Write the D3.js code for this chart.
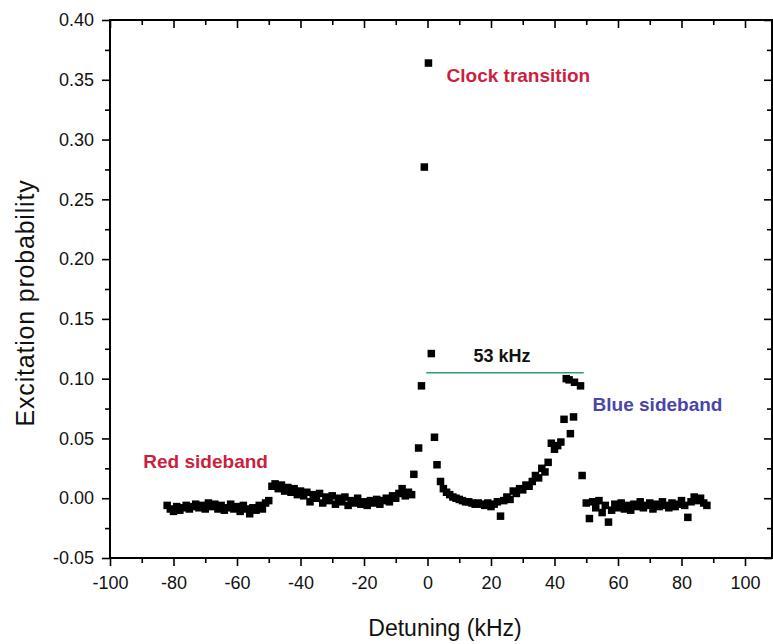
<!DOCTYPE html>
<html>
<head>
<meta charset="utf-8">
<script src="https://cdn.jsdelivr.net/npm/d3@7"></script>
<style>
  html, body { margin: 0; padding: 0; background: #fff; }
  svg { display: block; }
  text { font-family: Arial, "Liberation Sans", Helvetica, sans-serif; }
</style>
</head>
<body>
<svg id="chart" width="773" height="644"></svg>
<script>
// Sideband spectrum: detuning (kHz) vs excitation probability
const detuning = [
  -82,-81,-80,-79,-78,-77,-76,-75,-74,-73,-72,-71,-70,-69,-68,-67,-66,-65,-64,-63,
  -62,-61,-60,-59,-58,-57,-56,-55,-54,-53,-52,-51,
  -50,-49,-48,-47,-46,-45,-44,-43,-42,-41,-40,-39,-38,-37,-36,-35,-34,-33,-32,-31,
  -30,-29,-28,-27,-26,-25,-24,-23,-22,-21,-20,-19,-18,-17,-16,-15,-14,-13,-12,-11,
  -10,-9,-8,-7,-6,-5,
  -4.3,-2.8,-1.9,-1.0,0.3,1.2,2.2,3.0,4.1,
  5,6,7,8,9,10,11,12,13,14,15,16,17,18,19,20,21,22,23,24,25,26,27,28,29,30,31,32,
  33,34,35,36,37,38,39,40,41,42,
  43.0,43.7,44.6,45.0,46.0,46.3,48.2,48.7,
  50,51,52,53,54,55,56,57,58,59,60,61,62,63,64,65,66,67,68,69,70,71,72,73,74,75,
  76,77,78,79,80,81,82,83,84,85,86,87,88
];
const excitation = [
  -0.006,-0.009,-0.011,-0.007,-0.010,-0.008,-0.006,-0.009,-0.007,-0.005,-0.008,-0.006,-0.009,-0.004,-0.007,-0.005,-0.009,-0.006,-0.010,-0.008,
  -0.005,-0.009,-0.007,-0.011,-0.006,-0.009,-0.013,-0.008,-0.010,-0.006,-0.009,-0.004,
  -0.002,0.010,0.012,0.008,0.011,0.006,0.009,0.005,0.008,0.003,0.006,0.002,0.005,-0.003,0.003,0.000,0.004,-0.004,0.001,-0.002,
  0.002,-0.005,0.000,-0.003,0.001,-0.006,-0.002,-0.004,0.000,-0.005,-0.003,-0.006,-0.002,-0.004,-0.001,-0.005,-0.002,0.000,-0.003,0.002,
  0.000,0.004,0.008,0.002,0.005,0.003,
  0.020,0.042,0.094,0.277,0.364,0.121,0.051,0.028,0.014,
  0.008,0.005,0.003,0.001,0.000,-0.001,-0.002,-0.003,-0.003,-0.004,-0.005,-0.004,-0.005,-0.006,-0.004,-0.007,-0.005,-0.003,-0.015,-0.002,0.001,-0.001,0.006,0.004,0.008,0.007,0.011,0.010,
  0.014,0.019,0.017,0.025,0.022,0.030,0.046,0.041,0.044,0.047,
  0.066,0.100,0.099,0.054,0.068,0.097,0.094,0.019,
  -0.004,-0.017,-0.003,-0.008,-0.002,-0.012,-0.006,-0.020,-0.010,-0.005,-0.008,-0.004,-0.009,-0.006,-0.010,-0.005,-0.007,-0.003,-0.008,-0.006,-0.004,-0.009,-0.005,-0.007,-0.003,-0.006,
  -0.008,-0.004,-0.007,-0.005,-0.002,-0.006,-0.016,-0.003,0.001,-0.002,0.000,-0.004,-0.006
];

const xTicks = [-100,-80,-60,-40,-20,0,20,40,60,80,100];
const xMinorTicks = [-90,-70,-50,-30,-10,10,30,50,70,90];
const yTicks = [-0.05,0.00,0.05,0.10,0.15,0.20,0.25,0.30,0.35,0.40];
const yMinorTicks = [-0.025,0.025,0.075,0.125,0.175,0.225,0.275,0.325,0.375];

// Annotations
const spanStart = -0.4, spanEnd = 49.2, spanLevel = 0.105, spanLabel = "53 kHz";
const notes = [
  { text: "Clock transition", x: 6, y: 0.348, color: "#cc1f3f" },
  { text: "Red sideband",     x: -89.5, y: 0.025, color: "#cc1f3f" },
  { text: "Blue sideband",    x: 52, y: 0.073, color: "#4b45a8" }
];

const svg = d3.select("#chart");
const plotLeft = 110, plotRight = 772, plotTop = 20, plotBottom = 558;

const x = d3.scaleLinear().domain([-100, 100]).range([110, 745]);
const y = d3.scaleLinear().domain([-0.05, 0.40]).range([plotBottom, plotTop]);

// Plain hyphen for negative tick labels
const hyphen = f => v => f(v).replace("\u2212", "-");
const fmtY = hyphen(d3.format(".2f"));
const fmtX = hyphen(d3.format("d"));

function styleAxis(g) {
  g.select(".domain").remove();
  g.selectAll(".tick line").attr("stroke", "#000").attr("stroke-width", 1.6);
  g.selectAll(".tick text").attr("fill", "#111").attr("font-size", 18)
    .attr("font-family", "Arial, 'Liberation Sans', sans-serif");
}

// Bottom axis (outward ticks, labelled)
svg.append("g").attr("transform", `translate(0,${plotBottom})`)
  .call(d3.axisBottom(x).tickValues(xTicks).tickSize(8).tickPadding(10).tickFormat(fmtX))
  .call(styleAxis);
svg.append("g").attr("transform", `translate(0,${plotBottom})`)
  .call(d3.axisBottom(x).tickValues(xMinorTicks).tickSize(5).tickFormat(""))
  .call(styleAxis);

// Top axis (inward ticks)
svg.append("g").attr("transform", `translate(0,${plotTop})`)
  .call(d3.axisBottom(x).tickValues(xTicks).tickSize(8).tickFormat(""))
  .call(styleAxis);
svg.append("g").attr("transform", `translate(0,${plotTop})`)
  .call(d3.axisBottom(x).tickValues(xMinorTicks).tickSize(5).tickFormat(""))
  .call(styleAxis);

// Left axis (outward ticks, labelled)
svg.append("g").attr("transform", `translate(${plotLeft},0)`)
  .call(d3.axisLeft(y).tickValues(yTicks).tickSize(8).tickPadding(8).tickFormat(fmtY))
  .call(styleAxis);
svg.append("g").attr("transform", `translate(${plotLeft},0)`)
  .call(d3.axisLeft(y).tickValues(yMinorTicks).tickSize(5).tickFormat(""))
  .call(styleAxis);

// Right axis (inward ticks)
svg.append("g").attr("transform", `translate(${plotRight},0)`)
  .call(d3.axisLeft(y).tickValues(yTicks).tickSize(8).tickFormat(""))
  .call(styleAxis);
svg.append("g").attr("transform", `translate(${plotRight},0)`)
  .call(d3.axisLeft(y).tickValues(yMinorTicks).tickSize(5).tickFormat(""))
  .call(styleAxis);

// Frame
svg.append("rect")
  .attr("x", plotLeft).attr("y", plotTop)
  .attr("width", plotRight - plotLeft).attr("height", plotBottom - plotTop)
  .attr("fill", "none").attr("stroke", "#000").attr("stroke-width", 2);

// Data points
const pts = detuning.map((d, i) => ({ d, p: excitation[i] }));
const s = 7.5;
svg.append("g").selectAll("rect").data(pts).join("rect")
  .attr("x", d => x(d.d) - s / 2)
  .attr("y", d => y(d.p) - s / 2)
  .attr("width", s).attr("height", s)
  .attr("fill", "#000");

// Sideband spacing marker
svg.append("line")
  .attr("x1", x(spanStart)).attr("x2", x(spanEnd))
  .attr("y1", y(spanLevel)).attr("y2", y(spanLevel))
  .attr("stroke", "#2f9a7c").attr("stroke-width", 1.6);
svg.append("text")
  .attr("x", (x(spanStart) + x(spanEnd)) / 2 - 3)
  .attr("y", y(spanLevel) - 11)
  .attr("text-anchor", "middle")
  .attr("font-size", 18).attr("font-weight", "bold").attr("fill", "#111")
  .text(spanLabel);

svg.append("g").selectAll("text").data(notes).join("text")
  .attr("x", d => x(d.x)).attr("y", d => y(d.y))
  .attr("font-size", 19).attr("font-weight", "bold")
  .attr("fill", d => d.color)
  .text(d => d.text);

// Axis titles
svg.append("text")
  .attr("x", 445).attr("y", 636)
  .attr("text-anchor", "middle").attr("font-size", 23).attr("fill", "#111")
  .text("Detuning (kHz)");
svg.append("text")
  .attr("transform", "translate(34,303) rotate(-90)")
  .attr("text-anchor", "middle").attr("font-size", 25).attr("letter-spacing", 0.8)
  .attr("fill", "#111")
  .text("Excitation probability");
</script>
</body>
</html>
